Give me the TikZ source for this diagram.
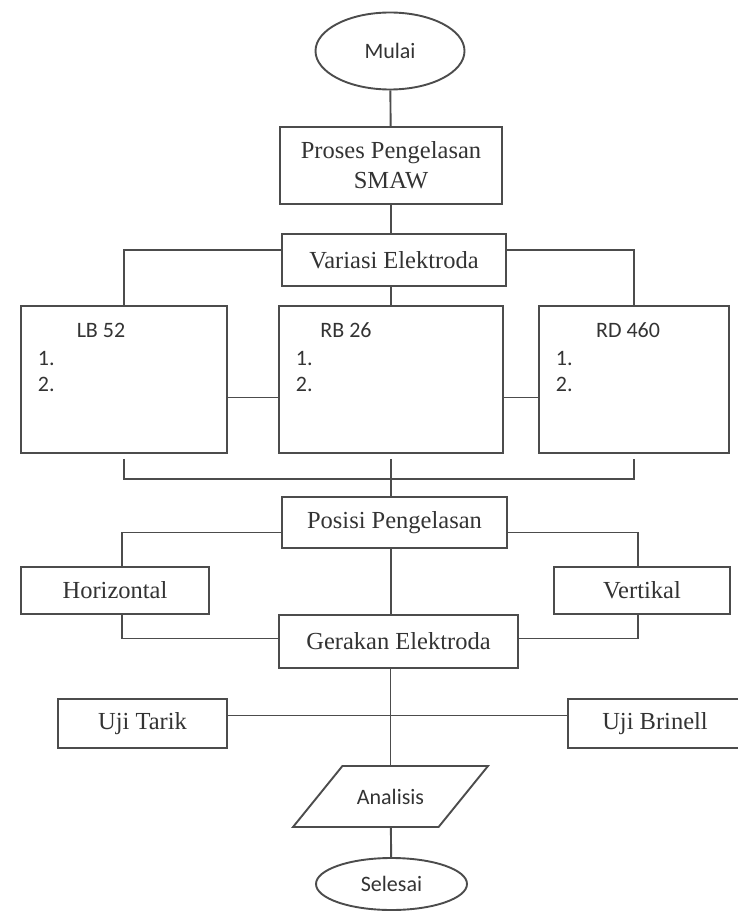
\documentclass[tikz,border=0pt]{standalone}
\usepackage{fontspec}
\setmainfont{Liberation Serif}
\newfontfamily\calibri{Carlito}
\usetikzlibrary{shapes.geometric}

\begin{document}
\begin{tikzpicture}[x=1pt, y=-1pt, line width=1.9pt, draw=black!70,
	every node/.style = {text=black!80},
	box/.style = {draw, rectangle, inner sep=0pt, font=\fontsize{24.5}{30}\selectfont},
	term/.style = {draw, ellipse, inner sep=0pt, font=\calibri\fontsize{22}{26}\selectfont},
	item/.style = {font=\calibri\fontsize{22}{26}\selectfont, inner sep=0pt}]

		\useasboundingbox (0,0) rectangle (737,912);

		\node[term, minimum width=149pt, minimum height=77pt] (mulai) at (390,51) {Mulai};
		\node[box, minimum width=222pt, minimum height=77pt, align=center] (proses) at (391,165.5) {Proses Pengelasan\\SMAW};
		\node[box, minimum width=224pt, minimum height=52pt] (variasi) at (394,260) {Variasi Elektroda};

		\node[box, minimum width=206pt, minimum height=147pt] (lb) at (124,379.5) {};
		\node[box, minimum width=224pt, minimum height=147pt] (rb) at (391,379.5) {};
		\node[box, minimum width=190pt, minimum height=147pt] (rd) at (634,379.5) {};

		\node[item] (lbname) at (101,330) {LB 52};
		\node[item, anchor=west] (lbone) at (37,359) {1.};
		\node[item, anchor=west] (lbtwo) at (37,384) {2.};
		\node[item] (rbname) at (346,330) {RB 26};
		\node[item, anchor=west] (rbone) at (295,359) {1.};
		\node[item, anchor=west] (rbtwo) at (295,384) {2.};
		\node[item] (rdname) at (628,330) {RD 460};
		\node[item, anchor=west] (rdone) at (555,359) {1.};
		\node[item, anchor=west] (rdtwo) at (555,384) {2.};

		\coordinate (bus) at (391,479);

		\node[box, minimum width=225pt, minimum height=51pt] (posisi) at (394.5,522.5) {Posisi Pengelasan};
		\node[box, minimum width=188pt, minimum height=47pt] (horiz) at (115,590.5) {Horizontal};
		\node[box, minimum width=176pt, minimum height=47pt] (vertikal) at (642,590.5) {Vertikal};
		\node[box, minimum width=239pt, minimum height=53pt] (gerakan) at (398.5,641.5) {Gerakan Elektroda};

		\node[box, minimum width=169pt, minimum height=49pt] (tarik) at (142.5,723.5) {Uji Tarik};
		\node[box, minimum width=174pt, minimum height=49pt] (brinell) at (655,723.5) {Uji Brinell};

		\node[draw, trapezium, trapezium left angle=51, trapezium right angle=129,
			text height=15pt, text depth=0pt, inner xsep=14.5pt, inner ysep=23pt,
			font=\calibri\fontsize{22}{26}\selectfont] (analisis) at (390.5,796.5) {Analisis};
		\node[term, minimum width=151pt, minimum height=52pt] (selesai) at (391.5,884) {Selesai};

		\draw (mulai) -- (proses);
		\draw (proses.south) -- (proses.south |- variasi.north);
		\draw ([yshift=10pt]variasi.west) -| (lb.north);
		\draw ([yshift=10pt]variasi.east) -| (rd.north);
		\draw (variasi.south -| rb.north) -- (rb.north);
		\draw ([yshift=-18pt]lb.east) -- ([yshift=-18pt]rb.west);
		\draw ([yshift=-18pt]rb.east) -- ([yshift=-18pt]rd.west);
		\draw ([yshift=-5pt]lb.south) |- (bus) -| ([yshift=-5pt]rd.south);
		\draw ([yshift=-5pt]rb.south) -- (rb.south |- posisi.north);
		\draw ([yshift=-10pt]posisi.west) -| ([xshift=7pt]horiz.north);
		\draw ([yshift=-10pt]posisi.east) -| ([xshift=-4pt]vertikal.north);
		\draw (posisi.south -| rb.south) -- (gerakan.north -| rb.south);
		\draw ([xshift=7pt]horiz.south) |- ([yshift=3pt]gerakan.west);
		\draw ([xshift=-4pt]vertikal.south) |- ([yshift=3pt]gerakan.east);
		\draw (gerakan.south -| analisis.north) -- (analisis.north);
		\draw ([yshift=8pt]tarik.east) -- ([yshift=8pt]brinell.west);
		\draw (analisis) -- (selesai);
	\end{tikzpicture}
\end{document}
